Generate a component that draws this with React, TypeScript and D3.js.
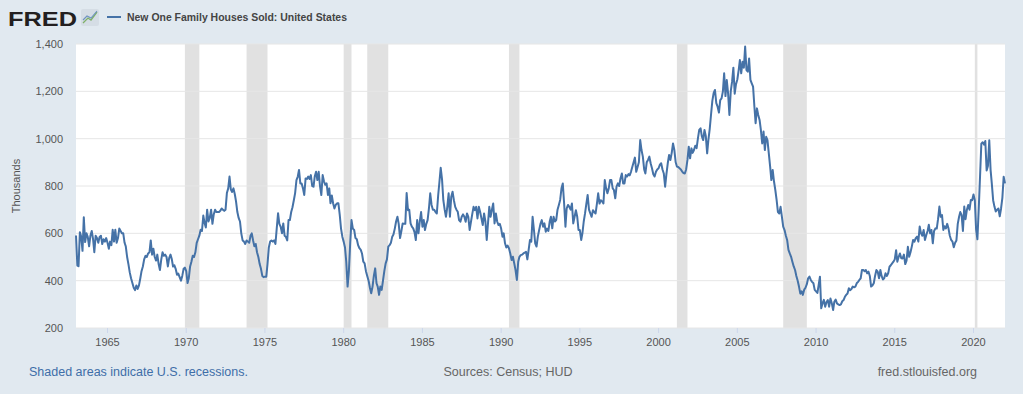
import React from 'react';
import * as d3 from 'd3';

// New One Family Houses Sold: United States (thousands, SAAR), one row per year from 1963
const startYear = 1963;
const monthlySales: number[][] = [
  [591, 464, 461, 605, 586, 526, 668, 563, 600, 585, 545, 590], // 1963
  [610, 575, 520, 590, 580, 560, 585, 590, 555, 575, 565, 580],
  [560, 535, 565, 550, 615, 565, 615, 560, 580, 620, 610, 600], // 1965
  [600, 560, 545, 500, 470, 435, 410, 390, 370, 360, 380, 365],
  [380, 410, 440, 460, 490, 505, 500, 515, 520, 570, 510, 535],
  [500, 485, 510, 470, 445, 490, 520, 505, 510, 500, 460, 495],
  [510, 490, 460, 465, 450, 425, 430, 415, 400, 420, 450, 455],
  [440, 390, 410, 460, 480, 505, 500, 520, 560, 575, 590, 615], // 1970
  [610, 675, 645, 625, 700, 650, 665, 700, 640, 680, 700, 690],
  [690, 690, 695, 705, 700, 695, 700, 770, 790, 840, 785, 775],
  [790, 765, 735, 690, 665, 650, 600, 570, 565, 555, 570, 565],
  [560, 590, 600, 570, 545, 555, 520, 500, 470, 450, 420, 415],
  [417, 417, 470, 540, 565, 570, 565, 570, 555, 620, 685, 640], // 1975
  [628, 600, 642, 590, 585, 570, 656, 656, 690, 710, 740, 770],
  [825, 840, 868, 811, 811, 790, 762, 832, 830, 840, 830, 846],
  [800, 797, 840, 860, 825, 860, 800, 762, 846, 820, 805, 811],
  [762, 790, 727, 760, 727, 705, 720, 727, 727, 680, 620, 586],
  [565, 540, 480, 375, 440, 560, 656, 620, 614, 580, 575, 550], // 1980
  [537, 530, 515, 480, 473, 440, 420, 400, 370, 347, 375, 420],
  [452, 389, 375, 340, 375, 361, 400, 440, 473, 490, 544, 550],
  [560, 586, 595, 620, 650, 670, 640, 580, 610, 642, 640, 640],
  [770, 698, 700, 642, 628, 621, 605, 572, 656, 600, 650, 690],
  [628, 656, 614, 640, 656, 705, 769, 720, 700, 700, 690, 684], // 1985
  [760, 820, 877, 828, 740, 700, 670, 712, 769, 670, 755, 776],
  [740, 712, 700, 691, 656, 649, 670, 680, 670, 649, 684, 670],
  [614, 649, 680, 712, 698, 712, 663, 712, 690, 663, 635, 684],
  [650, 572, 640, 712, 670, 700, 726, 642, 684, 650, 635, 640],
  [620, 586, 600, 558, 540, 548, 537, 515, 487, 501, 473, 445], // 1990
  [403, 480, 501, 508, 510, 515, 518, 522, 490, 530, 572, 565],
  [670, 614, 558, 544, 586, 614, 640, 656, 628, 642, 607, 620],
  [610, 650, 670, 621, 670, 650, 656, 700, 720, 741, 790, 811],
  [726, 628, 705, 720, 712, 700, 726, 642, 670, 698, 670, 614],
  [614, 572, 600, 650, 684, 726, 762, 700, 684, 670, 698, 690], // 1995
  [684, 726, 769, 726, 740, 735, 726, 825, 790, 769, 790, 825],
  [825, 790, 783, 748, 797, 811, 800, 832, 853, 811, 811, 846],
  [840, 850, 845, 860, 880, 900, 920, 860, 880, 900, 994, 952],
  [924, 870, 853, 900, 910, 924, 896, 875, 850, 840, 860, 870],
  [875, 890, 896, 870, 853, 797, 850, 896, 931, 910, 940, 980], // 2000
  [952, 900, 882, 880, 875, 870, 861, 855, 853, 870, 910, 966],
  [917, 959, 940, 952, 970, 960, 1000, 1037, 1044, 1010, 994, 1037],
  [1010, 938, 994, 1040, 1100, 1160, 1192, 1206, 1150, 1135, 1110, 1163],
  [1170, 1200, 1276, 1180, 1248, 1190, 1100, 1200, 1241, 1300, 1190, 1230],
  [1250, 1290, 1332, 1276, 1325, 1300, 1389, 1290, 1283, 1339, 1248, 1234], // 2005
  [1220, 1135, 1065, 1128, 1100, 1079, 1037, 980, 1030, 952, 1008, 994],
  [938, 882, 825, 868, 820, 783, 741, 690, 684, 712, 670, 628],
  [614, 590, 572, 530, 515, 501, 480, 460, 445, 420, 400, 375],
  [345, 355, 340, 362, 370, 385, 410, 417, 403, 395, 389, 361],
  [355, 348, 380, 417, 283, 305, 319, 290, 310, 318, 290, 325], // 2010
  [305, 276, 311, 320, 304, 300, 297, 300, 313, 318, 332, 340],
  [346, 368, 360, 365, 375, 372, 375, 389, 395, 403, 410, 445],
  [445, 440, 445, 431, 438, 420, 375, 380, 389, 420, 445, 438],
  [410, 445, 420, 405, 410, 431, 420, 431, 459, 465, 473, 480],
  [490, 529, 480, 500, 515, 495, 494, 510, 470, 485, 543, 501], // 2015
  [520, 545, 572, 565, 580, 586, 565, 629, 600, 590, 614, 572],
  [593, 610, 636, 600, 614, 558, 610, 621, 620, 660, 713, 670],
  [677, 614, 630, 621, 640, 620, 590, 572, 565, 541, 560, 570],
  [640, 670, 690, 677, 610, 713, 660, 700, 720, 700, 741, 740],
  [764, 740, 618, 575, 700, 840, 979, 985, 975, 990, 866, 885], // 2020
  [993, 867, 810, 740, 713, 692, 700, 705, 672, 704, 750, 839],
  [811], // 2022
];

// NBER recessions (first month, last month)
const recessions: [string, string][] = [
  ['1969-12', '1970-11'],
  ['1973-11', '1975-03'],
  ['1980-01', '1980-07'],
  ['1981-07', '1982-11'],
  ['1990-07', '1991-03'],
  ['2001-03', '2001-11'],
  ['2007-12', '2009-06'],
  ['2020-02', '2020-04'],
];

const yTicks = [200, 400, 600, 800, 1000, 1200, 1400];
const xTickYears = [1965, 1970, 1975, 1980, 1985, 1990, 1995, 2000, 2005, 2010, 2015, 2020];

const W = 1023;
const H = 394;
const plot = { left: 76, right: 1005, top: 44, bottom: 328 };
const font = '"Liberation Sans", Arial, Helvetica, sans-serif';

type Point = { date: Date; value: number };

const parseMonth = d3.timeParse('%Y-%m');

export default function App() {
  const points: Point[] = monthlySales.flatMap((row, i) =>
    row.map((value, m) => ({ date: new Date(startYear + i, m, 1), value }))
  );

  const x = d3
    .scaleTime()
    .domain(d3.extent(points, (d) => d.date) as [Date, Date])
    .range([plot.left, plot.right]);
  const y = d3.scaleLinear().domain([200, 1400]).range([plot.bottom, plot.top]);

  const line = d3
    .line<Point>()
    .x((d) => x(d.date))
    .y((d) => y(d.value));

  const fmt = d3.format(',');

  return (
    <svg
      width={W}
      height={H}
      style={{ position: 'absolute', left: 0, top: 0, display: 'block' }}
      fontFamily={font}
    >
      <rect x={0} y={0} width={W} height={H} fill="#e1e9f0" />

      {/* FRED logo */}
      <text
        x={8}
        y={26}
        fontSize={21}
        fontWeight="bold"
        fill="#231f20"
        textLength={69}
        lengthAdjust="spacingAndGlyphs"
      >
        FRED
      </text>
      <rect x={81} y={9} width={18} height={17} rx={2} fill="#d5dde5" />
      <polyline points="83,23 88,18 91,20 97,12" fill="none" stroke="#7fb069" strokeWidth={1.3} />
      <polyline points="83,20 87,16 91,18 97,11" fill="none" stroke="#6f93c0" strokeWidth={1.1} />

      {/* legend */}
      <line x1={107} x2={121} y1={17} y2={17} stroke="#4572a7" strokeWidth={2} />
      <text
        x={127}
        y={21}
        fontSize={11}
        fontWeight="bold"
        fill="#444"
        textLength={220}
        lengthAdjust="spacingAndGlyphs"
      >
        New One Family Houses Sold: United States
      </text>

      {/* plot background */}
      <rect
        x={plot.left}
        y={plot.top}
        width={plot.right - plot.left}
        height={plot.bottom - plot.top}
        fill="#ffffff"
      />

      {/* recession shading */}
      {recessions.map(([s, e]) => {
        const x0 = x(parseMonth(s) as Date);
        const x1 = x(parseMonth(e) as Date);
        return (
          <rect
            key={s}
            x={x0}
            y={plot.top}
            width={Math.max(1, x1 - x0)}
            height={plot.bottom - plot.top}
            fill="#e1e1e1"
          />
        );
      })}

      {/* grid + y labels */}
      {yTicks.map((t) => (
        <g key={t}>
          <line
            x1={plot.left}
            x2={plot.right}
            y1={y(t)}
            y2={y(t)}
            stroke="#e6e6e6"
            strokeWidth={1}
          />
          <text x={63} y={y(t) + 4} textAnchor="end" fontSize={11} fill="#555">
            {fmt(t)}
          </text>
        </g>
      ))}

      {/* x ticks + labels */}
      {xTickYears.map((yr) => {
        const xp = x(new Date(yr, 0, 1));
        return (
          <g key={yr}>
            <line x1={xp} x2={xp} y1={plot.bottom} y2={plot.bottom + 5} stroke="#ccd6eb" />
            <text x={xp} y={plot.bottom + 18} textAnchor="middle" fontSize={11} fill="#555">
              {yr}
            </text>
          </g>
        );
      })}

      <text
        transform={`translate(20,${(plot.top + plot.bottom) / 2}) rotate(-90)`}
        textAnchor="middle"
        fontSize={11}
        fill="#555"
      >
        Thousands
      </text>

      {/* series */}
      <path
        d={line(points) ?? ''}
        fill="none"
        stroke="#4572a7"
        strokeWidth={2}
        strokeLinejoin="round"
      />

      {/* footer */}
      <text x={29} y={376} fontSize={12.5} fill="#3e6ea8">
        Shaded areas indicate U.S. recessions.
      </text>
      <text x={508} y={376} textAnchor="middle" fontSize={12.5} fill="#666">
        Sources: Census; HUD
      </text>
      <text x={977} y={376} textAnchor="end" fontSize={12.5} fill="#666">
        fred.stlouisfed.org
      </text>
    </svg>
  );
}
